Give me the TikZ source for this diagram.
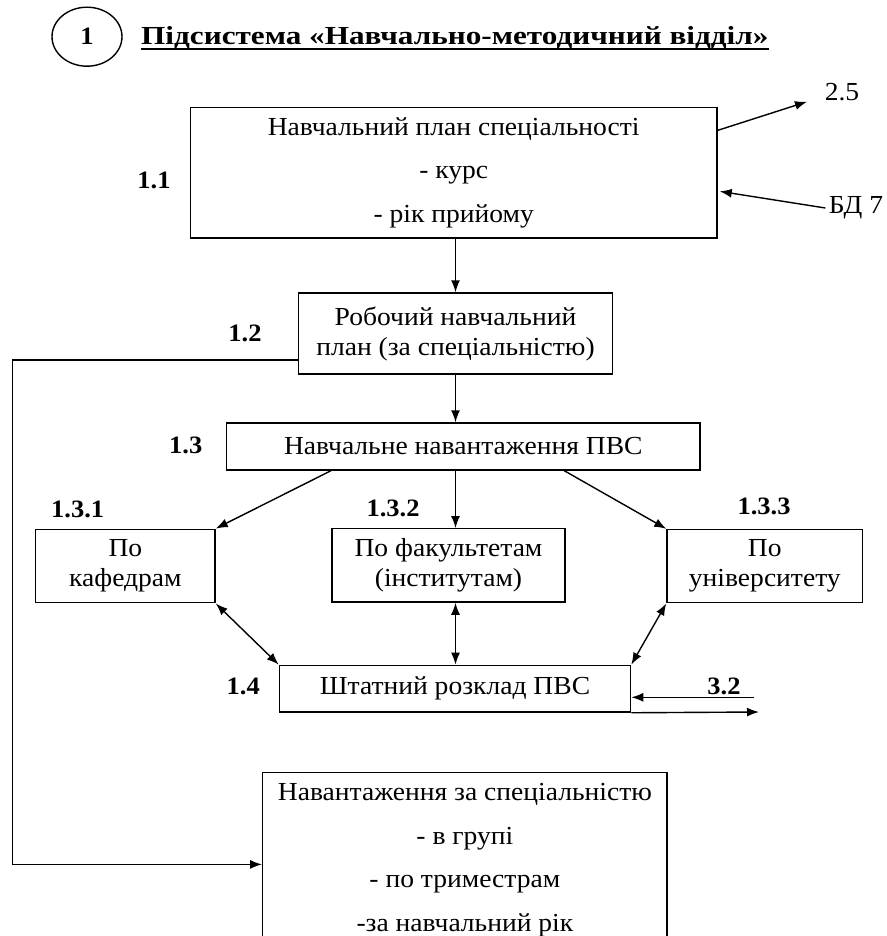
\documentclass[tikz,border=0pt]{standalone}
\usepackage{fontspec}
\setmainfont{Liberation Serif}
\newfontfamily\bodyfont[FakeStretch=1.06]{Liberation Serif}
\newfontfamily\titlefont[FakeStretch=1.2]{Liberation Serif}
\usetikzlibrary{arrows.meta,calc,shapes.geometric}

\begin{document}
\begin{tikzpicture}[x=1pt,y=-1pt,
    box/.style={draw,line width=1.4pt,align=center,inner sep=0pt,font=\bodyfont\fontsize{26}{30}\selectfont},
    num/.style={font=\bodyfont\fontsize{25}{28}\selectfont\bfseries},
    txt/.style={font=\bodyfont\fontsize{26}{28}\selectfont},
    arr/.style={line width=1.4pt,-{Latex[length=12pt,width=9pt]}},
    darr/.style={line width=1.4pt,{Latex[length=12pt,width=9pt]}-{Latex[length=12pt,width=9pt]}}]

    \clip (0,0) rectangle (886,936);

    % Title
    \node[ellipse,draw,line width=1.4pt,minimum width=70,minimum height=59,inner sep=0pt,font=\bodyfont\fontsize{25}{26}\selectfont\bfseries] (circ) at (87,36.7) {1};
    \node[anchor=base west,inner sep=0pt,font=\titlefont\fontsize{26}{28}\selectfont\bfseries] (title) at (141,45) {Підсистема «Навчально-методичний відділ»};
    \draw[line width=2pt] ($(title.base west)+(0,4.5)$) -- ($(title.base east)+(0,4.5)$);

    % Boxes
    \node[box,minimum width=526.7,minimum height=130.5] (b11) at (453.7,172.8)
        {Навчальний план спеціальності\\[13.5pt] - курс\\[13.5pt] - рік прийому};
    \node[box,minimum width=314.4,minimum height=81] (b12) at (455.5,333.5)
        {Робочий навчальний\\ план (за спеціальністю)};
    \node[box,minimum width=473.3,minimum height=47] (b13) at (463.3,446.5)
        {Навчальне навантаження ПВС};
    \node[box,minimum width=179.3,minimum height=73.5] (b131) at (125.4,566)
        {По\\ кафедрам};
    \node[box,minimum width=233,minimum height=73.3] (b132) at (448.5,565.4)
        {По факультетам\\ (інститутам)};
    \node[box,minimum width=195.7,minimum height=73.2] (b133) at (764.8,566.1)
        {По\\ університету};
    \node[box,minimum width=351.2,minimum height=46.7] (b14) at (455,688.7)
        {Штатний розклад ПВС};
    \node[box,minimum width=404.3,minimum height=175] (bnav) at (464.9,860)
        {Навантаження за спеціальністю\\[13.5pt] - в групі\\[13.5pt] - по триместрам\\[13.5pt] -за навчальний рік};

    % Numbers
    \node[num] (n11) at (154,180) {1.1};
    \node[num] (n12) at (245,333) {1.2};
    \node[num] (n13) at (185.7,445.7) {1.3};
    \node[num] (n131) at (77.7,509.3) {1.3.1};
    \node[num] (n132) at (393,508) {1.3.2};
    \node[num] (n133) at (764,506.7) {1.3.3};
    \node[num] (n14) at (243.3,686.7) {1.4};
    \node[num,anchor=base] (n32) at (724,694) {3.2};

    % Outside links
    \node[txt] (n25) at (842,92) {2.5};
    \node[txt] (bd7) at (856,208) {БД 7};
    \coordinate (e25) at (807,101.7);
    \coordinate (s32) at (754,697.3);
    \coordinate (e14) at (759,712);
    \coordinate (lft) at (12.3,360);

    % Arrows
    \draw[arr] ($(b11.north east)+(0,23.5)$) -- (e25);
    \draw[arr] (bd7.west) -- ($(b11.north east)+(2,84.5)$);
    \draw[arr] (b12.north |- b11.south) -- (b12.north);
    \draw[arr] (b12.south) -- (b12.south |- b13.north);
    \draw[arr] (b12.south |- b13.south) -- (b12.south |- b132.north);
    \draw[arr] ($(b13.south west)+(105,0)$) -- (b131.north east);
    \draw[arr] ($(b13.south west)+(338.3,0)$) -- (b133.north west);
    \draw[darr] (b131.south east) -- (b14.north west);
    \draw[darr] (b12.south |- b132.south) -- (b12.south |- b14.north);
    \draw[darr] (b133.south west) -- (b14.north east);
    \draw[arr] (s32) -- (s32 -| b14.east);
    \draw[arr] (b14.south east) -- (e14);
    \draw[arr] (b12.west |- lft) -- (lft) |- ($(bnav.north west)+(0,92.6)$);
\end{tikzpicture}
\end{document}
